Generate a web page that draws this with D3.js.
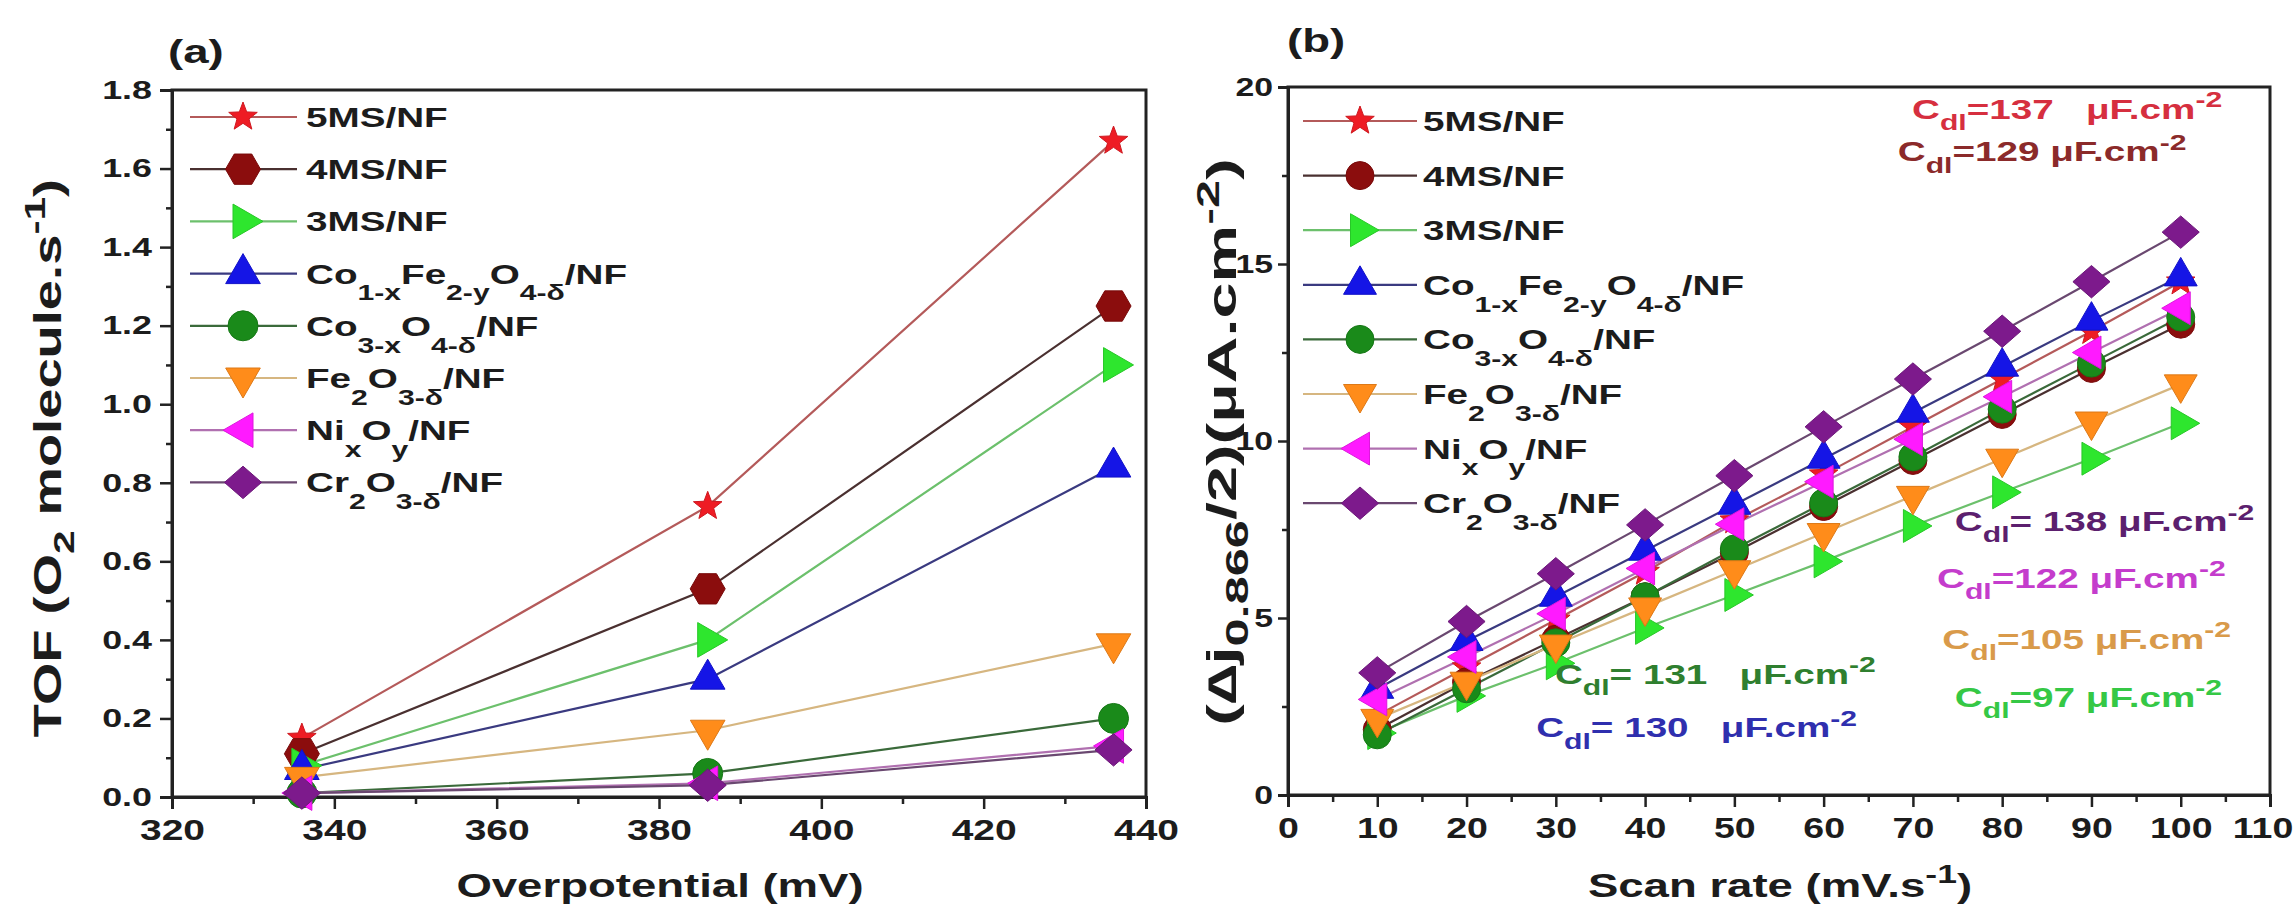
<!DOCTYPE html>
<html lang="en">
<head>
<meta charset="utf-8">
<title>TOF and Cdl</title>
<script src="https://cdn.jsdelivr.net/npm/d3@7"></script>
<style>
  body { margin: 0; background: #fff; }
  text { font-family: "Liberation Sans", Arial, sans-serif; font-weight: bold; fill: #1c1c1c; white-space: pre; }
</style>
</head>
<body>
<script>
// ---- data ----
var names = ["5MS/NF", "4MS/NF", "3MS/NF", "Co_{1-x}Fe_{2-y}O_{4-δ}/NF", "Co_{3-x}O_{4-δ}/NF",
             "Fe_{2}O_{3-δ}/NF", "Ni_{x}O_{y}/NF", "Cr_{2}O_{3-δ}/NF"];

// (a) TOF vs overpotential
var overpotential = [336, 386, 436];
var tof5MS  = [0.15, 0.74, 1.67];
var tof4MS  = [0.11, 0.53, 1.25];
var tof3MS  = [0.08, 0.40, 1.10];
var tofCoFe = [0.07, 0.30, 0.84];
var tofCo3  = [0.01, 0.06, 0.20];
var tofFe2  = [0.05, 0.17, 0.39];
var tofNi   = [0.01, 0.035, 0.13];
var tofCr   = [0.01, 0.03, 0.12];

// (b) delta j vs scan rate
var scanRate = [10, 20, 30, 40, 50, 60, 70, 80, 90, 100];
var dj5MS  = [2.25, 3.6, 4.95, 6.3, 7.75, 9.05, 10.4, 11.75, 13.1, 14.5];
var dj4MS  = [1.85, 3.2, 4.4, 5.6, 6.85, 8.15, 9.45, 10.75, 12.05, 13.3];
var dj3MS  = [1.75, 2.8, 3.72, 4.72, 5.65, 6.6, 7.6, 8.55, 9.5, 10.5];
var djCoFe = [3.0, 4.35, 5.6, 6.9, 8.2, 9.5, 10.8, 12.1, 13.4, 14.65];
var djCo3  = [1.7, 3.0, 4.3, 5.6, 6.95, 8.25, 9.55, 10.9, 12.2, 13.5];
var djFe2  = [2.15, 3.2, 4.25, 5.3, 6.35, 7.4, 8.45, 9.5, 10.55, 11.6];
var djNi   = [2.7, 3.9, 5.12, 6.4, 7.65, 8.85, 10.05, 11.25, 12.5, 13.75];
var djCr   = [3.45, 4.9, 6.25, 7.63, 9.02, 10.4, 11.75, 13.1, 14.5, 15.9];

var cdlLabels = ["C_{dl}=137   μF.cm^{-2}", "C_{dl}=129 μF.cm^{-2}", "C_{dl}= 138 μF.cm^{-2}",
                 "C_{dl}=122 μF.cm^{-2}", "C_{dl}=105 μF.cm^{-2}", "C_{dl}=97 μF.cm^{-2}",
                 "C_{dl}= 131   μF.cm^{-2}", "C_{dl}= 130   μF.cm^{-2}"];

// ticks
var xTicksA = [320, 340, 360, 380, 400, 420, 440];
var xMinorA = [330, 350, 370, 390, 410, 430];
var yTicksA = [0, 0.2, 0.4, 0.6, 0.8, 1.0, 1.2, 1.4, 1.6, 1.8];
var yMinorA = [0.1, 0.3, 0.5, 0.7, 0.9, 1.1, 1.3, 1.5, 1.7];
var xTicksB = [0, 10, 20, 30, 40, 50, 60, 70, 80, 90, 100, 110];
var xMinorB = [5, 15, 25, 35, 45, 55, 65, 75, 85, 95, 105];
var yTicksB = [0, 5, 10, 15, 20];
var yMinorB = [2.5, 7.5, 12.5, 17.5];

var tofSeries = [tof5MS, tof4MS, tof3MS, tofCoFe, tofCo3, tofFe2, tofNi, tofCr];
var djSeries = [dj5MS, dj4MS, dj3MS, djCoFe, djCo3, djFe2, djNi, djCr];

// ---- styles ----
var markerColors = ["#ee1c24", "#8b0d0d", "#2ee62e", "#1515e6", "#1a8a1a", "#ff8c1a", "#ff1aff", "#7d1a8c"];
var lineColors = ["#b45a5a", "#4a3030", "#6cc06c", "#3a3a80", "#3a6a3a", "#d6b680", "#b070b0", "#6a4870"];
var cdlColors = ["#d62f3f", "#8b2a2a", "#5c1f6e", "#c43ccc", "#d99a4a", "#35c845", "#2f7f2f", "#2f2fae"];
var SX = 1.38; // the figure's lettering is wide

var svg = d3.select("body").append("svg").attr("width", 2293).attr("height", 907);

var xA = d3.scaleLinear().domain([320, 440]).range([172, 1146]);
var yA = d3.scaleLinear().domain([0, 1.8]).range([797, 90]);
var xB = d3.scaleLinear().domain([0, 110]).range([1288, 2270]);
var yB = d3.scaleLinear().domain([0, 20]).range([795, 87]);

// marker shapes, size = radius
function poly(n, start) {
  return { draw: function(c, r) {
    for (var i = 0; i < n; i++) {
      var a = start + i * 2 * Math.PI / n;
      if (i) c.lineTo(r * Math.cos(a), r * Math.sin(a)); else c.moveTo(r * Math.cos(a), r * Math.sin(a));
    }
    c.closePath();
  } };
}
var star = { draw: function(c, r) {
  for (var i = 0; i < 10; i++) {
    var rr = i % 2 ? r * 0.42 : r, a = -Math.PI / 2 + i * Math.PI / 5;
    if (i) c.lineTo(rr * Math.cos(a), rr * Math.sin(a)); else c.moveTo(rr * Math.cos(a), rr * Math.sin(a));
  }
  c.closePath();
} };
var circle = { draw: function(c, r) { c.moveTo(r, 0); c.arc(0, 0, r, 0, 2 * Math.PI); } };
var diamond = { draw: function(c, r) {
  c.moveTo(0, -r * 0.9); c.lineTo(r * 1.03, 0); c.lineTo(0, r * 0.9); c.lineTo(-r * 1.03, 0); c.closePath();
} };
var shapesA = [star, poly(6, 0), poly(3, 0), poly(3, -Math.PI / 2), circle, poly(3, Math.PI / 2), poly(3, Math.PI), diamond];
var shapesB = [star, circle, poly(3, 0), poly(3, -Math.PI / 2), circle, poly(3, Math.PI / 2), poly(3, Math.PI), diamond];
var radA = [15, 17.5, 20, 20, 15, 20, 20, 18];
var radB = [15, 14, 19, 19, 14, 19, 19, 18];

function sym(shape, r) { return d3.symbol().type(shape).size(r)(); }

// text with _{sub} and ^{sup}
function rich(text, str, size, subDy) {
  var re = /([_^])\{([^}]*)\}/g, last = 0, m, shift = 0;
  function add(s, lvl) {
    var off = lvl === 1 ? size * subDy : lvl === -1 ? -size * 0.42 : 0;
    text.append("tspan").attr("dy", off - shift).attr("font-size", lvl ? size * 0.78 : size).text(s);
    shift = off;
  }
  while ((m = re.exec(str))) {
    if (m.index > last) add(str.slice(last, m.index), 0);
    add(m[2], m[1] === "_" ? 1 : -1);
    last = re.lastIndex;
  }
  if (last < str.length) add(str.slice(last), 0);
  return text;
}
function wide(x, y, size, rot, anchor, sx) {
  return svg.append("text")
    .attr("transform", "translate(" + x + "," + y + ") rotate(" + (rot || 0) + ") scale(" + (sx || SX) + ",1)")
    .attr("font-size", size).attr("text-anchor", anchor || "start");
}

function axes(x, y, xt, xm, yt, ym, yfmt, o) {
  var r = x.range(), t = y.range();
  svg.append("rect").attr("x", r[0]).attr("y", t[1]).attr("width", r[1] - r[0]).attr("height", t[0] - t[1])
    .attr("fill", "none").attr("stroke", "#222").attr("stroke-width", 3);
  var gx = svg.append("g").attr("transform", "translate(0," + t[0] + ")")
    .call(d3.axisBottom(x).tickValues(xt).tickSize(12).tickPadding(o.xpad).tickFormat(d3.format("d")));
  svg.append("g").attr("transform", "translate(0," + t[0] + ")")
    .call(d3.axisBottom(x).tickValues(xm).tickSize(7).tickFormat(""))
    .call(function(g) { g.select(".domain").remove(); });
  var gy = svg.append("g").attr("transform", "translate(" + r[0] + ",0)")
    .call(d3.axisLeft(y).tickValues(yt).tickSize(o.ytick).tickPadding(o.ypad).tickFormat(yfmt));
  svg.append("g").attr("transform", "translate(" + r[0] + ",0)")
    .call(d3.axisLeft(y).tickValues(ym).tickSize(6).tickFormat(""))
    .call(function(g) { g.select(".domain").remove(); });
  svg.selectAll(".domain").attr("stroke", "#222").attr("stroke-width", 3);
  svg.selectAll(".tick line").attr("stroke", "#222").attr("stroke-width", 2.5);
  gx.selectAll("text").attr("font-size", o.xsize).attr("font-family", null).attr("fill", "#1c1c1c")
    .attr("transform", "scale(" + o.xsx + ",1)");
  gy.selectAll("text").attr("font-size", o.ysize).attr("font-family", null).attr("fill", "#1c1c1c")
    .each(function() { var s = d3.select(this); s.attr("x", +s.attr("x") / o.ysx); })
    .attr("transform", "scale(" + o.ysx + ",1)");
  return gx;
}

function plot(x, y, xs, series, shapes, rads) {
  var line = d3.line().x(function(d) { return x(d[0]); }).y(function(d) { return y(d[1]); });
  series.forEach(function(vals, i) {
    svg.append("path").datum(xs.map(function(v, k) { return [v, vals[k]]; }))
      .attr("d", line).attr("fill", "none").attr("stroke", lineColors[i]).attr("stroke-width", 2.2);
  });
  series.forEach(function(vals, i) {
    svg.append("g").selectAll("path").data(vals).join("path")
      .attr("d", sym(shapes[i], rads[i]))
      .attr("transform", function(d, k) { return "translate(" + x(xs[k]) + "," + y(d) + ")"; })
      .attr("fill", markerColors[i]).attr("stroke", d3.color(markerColors[i]).darker(0.4)).attr("stroke-width", 1);
  });
}

function legend(x0, x1, xm, xt, y0, dy, shapes, rads) {
  names.forEach(function(n, i) {
    var yy = y0 + i * dy;
    svg.append("line").attr("x1", x0).attr("x2", x1).attr("y1", yy).attr("y2", yy)
      .attr("stroke", lineColors[i]).attr("stroke-width", 2.2);
    svg.append("path").attr("d", sym(shapes[i], rads[i])).attr("transform", "translate(" + xm + "," + yy + ")")
      .attr("fill", markerColors[i]).attr("stroke", d3.color(markerColors[i]).darker(0.4)).attr("stroke-width", 1);
    rich(wide(xt, yy + 10, 28), n, 28, 0.6);
  });
}

// ---- panel (a) ----
axes(xA, yA, xTicksA, xMinorA, yTicksA, yMinorA, d3.format(".1f"),
     { xpad: 10, xsize: 30, xsx: 1.3, ytick: 12, ypad: 8, ysize: 26, ysx: 1.38 });
plot(xA, yA, overpotential, tofSeries, shapesA, radA);
legend(190, 297, 243, 306, 117, 52.2, shapesA, radA);
wide(168, 63, 33, 0).text("(a)");
wide(660, 897, 33, 0, "middle").text("Overpotential (mV)");
rich(wide(61, 458, 38, -90, "middle", 1.43), "TOF (O_{2} molecule.s^{-1})", 38, 0.35);

// ---- panel (b) ----
var gxB = axes(xB, yB, xTicksB, xMinorB, yTicksB, yMinorB, d3.format("d"),
     { xpad: 10, xsize: 30, xsx: 1.25, ytick: 10, ypad: 5, ysize: 26, ysx: 1.3 });
gxB.selectAll(".tick").filter(function(d) { return d === 110; }).select("text").attr("dx", -6);
plot(xB, yB, scanRate, djSeries, shapesB, radB);
legend(1303, 1417, 1360, 1423, 121, 54.6, shapesB, radB);
wide(1287, 52, 33, 0).text("(b)");
rich(wide(1780, 897, 33, 0, "middle"), "Scan rate (mV.s^{-1})", 33, 0.35);
rich(wide(1236, 442, 40, -90, "middle", 1.62), "(∆j_{0.866}/2)(μA.cm^{-2})", 40, 0.3);

// C_dl annotations, anchored in data space of panel (b)
var cdlAt = [[69.9, 19.1], [68.3, 17.9], [74.7, 7.45], [72.7, 5.85], [73.3, 4.12], [74.7, 2.5], [29.9, 3.13], [27.8, 1.63]];
cdlLabels.forEach(function(s, i) {
  var t = wide(xB(cdlAt[i][0]), yB(cdlAt[i][1]), 28);
  rich(t, s, 28, 0.4);
  t.selectAll("tspan").style("fill", cdlColors[i]);
});
</script>
</body>
</html>
